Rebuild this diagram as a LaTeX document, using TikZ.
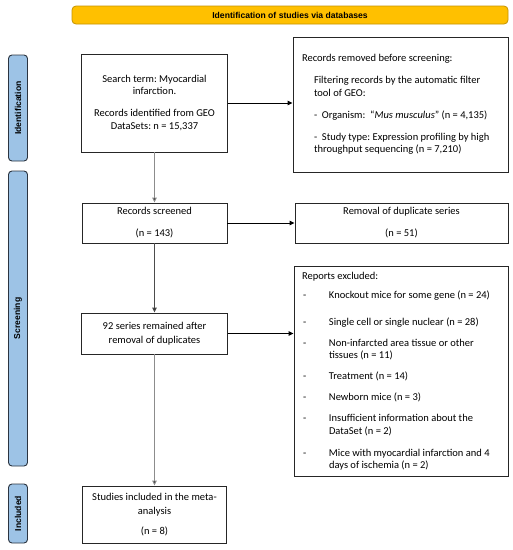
\documentclass[tikz,border=0pt]{standalone}
\usepackage{fontspec}
\setmainfont{Carlito}
\newfontfamily\hdrfont{Liberation Sans}
\usetikzlibrary{arrows.meta}
\definecolor{bannerfill}{HTML}{FFC000}
\definecolor{bannerdraw}{HTML}{C49300}
\definecolor{sidefill}{HTML}{9DC3E6}
\definecolor{sidedraw}{HTML}{2B3440}
\newcommand\exitm[1]{\mbox{\makebox[27pt][l]{\hspace{1pt}-}#1}}
\newcommand\excont[1]{\mbox{\hspace*{27pt}#1}}
\newcommand\ctrline[1]{\makebox[0pt][c]{#1}}
\begin{document}
\begin{tikzpicture}[x=1pt,y=-1pt,
  box/.style={draw=black!85, line width=0.9pt, inner sep=0pt, fill=white,
    font=\frenchspacing\fontsize{10.5}{12.5}\selectfont},
  cbox/.style={box, align=center},
  lbox/.style={box, align=flush left},
  hdr/.style={draw=bannerdraw, fill=bannerfill, line width=0.8pt, rounded corners=4pt,
    inner sep=0pt, font=\hdrfont\bfseries\fontsize{8.6}{10}\selectfont},
  side/.style={draw=sidedraw, fill=sidefill, line width=0.9pt, rounded corners=3.5pt,
    inner sep=0pt, rotate=90, minimum height=19pt,
    font=\hdrfont\bfseries\fontsize{8.6}{10}\selectfont},
  garrow/.style={draw=black!45, line width=0.9pt, -{Triangle[length=5pt,width=4.5pt,fill=black!80]}},
  darrow/.style={draw=black!70, line width=0.9pt, -{Triangle[length=5pt,width=4.5pt,fill=black!80]}},
  harrow/.style={draw=black, line width=0.9pt, -{Triangle[length=5pt,width=4.5pt]}}
]
\fill[white] (0,0) rectangle (513,550);
\useasboundingbox (0,0) rectangle (513,550);

\node[hdr, minimum width=436pt, minimum height=18pt] (hd) at (290,15) {Identification of studies via databases};

\node[side, minimum width=106pt] (sid) at (18,108) {Identification};
\node[side, minimum width=295pt] (ssc) at (18,318.5) {Screening};
\node[side, minimum width=59pt] (sin) at (18,513.5) {Included};

\node[cbox, minimum width=146pt, minimum height=98pt] (b1) at (154.5,103)
  {\ctrline{Search term: Myocardial}\\\ctrline{infarction.}\\[9.5pt]\ctrline{Records identified from GEO}\\\ctrline{DataSets: n = 15,337}};

\node[lbox, minimum width=215pt, minimum height=135pt, text width=197pt] (b2) at (400.5,104.5)
  {Records removed before screening:\\[10pt]
   \mbox{\hspace*{12pt}Filtering records by the automatic filter}\\
   \mbox{\hspace*{12pt}tool of GEO:}\\[9.5pt]
   \mbox{\hspace*{12pt}-\ \ Organism:\ \ “\textit{Mus musculus}” (n = 4,135)}\\[9.5pt]
   \mbox{\hspace*{12pt}-\ \ Study type: Expression profiling by high}\\
   \mbox{\hspace*{12pt}throughput sequencing (n = 7,210)}};

\node[cbox, minimum width=145pt, minimum height=40pt] (b3) at (154.5,223)
  {Records screened\\[9.5pt](n = 143)};

\node[cbox, minimum width=213pt, minimum height=40pt] (b4) at (401.5,223)
  {Removal of duplicate series\\[9.5pt](n = 51)};

\node[cbox, minimum width=146pt, minimum height=41pt] (b5) at (154.5,333.5)
  {92 series remained after\\[1.5pt]removal of duplicates};

\node[lbox, minimum width=214pt, minimum height=210pt, text width=198pt] (b6) at (401,371)
  {Reports excluded:\\[6.5pt]
   \exitm{Knockout mice for some gene (n = 24)}\\[14.5pt]
   \exitm{Single cell or single nuclear (n = 28)}\\[8.5pt]
   \exitm{Non-infarcted area tissue or other}\\
   \excont{tissues (n = 11)}\\[8.5pt]
   \exitm{Treatment (n = 14)}\\[8.5pt]
   \exitm{Newborn mice (n = 3)}\\[8.5pt]
   \exitm{Insufficient information about the}\\
   \excont{DataSet (n = 2)}\\[9.5pt]
   \exitm{Mice with myocardial infarction and 4}\\
   \excont{days of ischemia (n = 2)}};

\node[cbox, minimum width=144pt, minimum height=57pt] (b7) at (154.5,514.5)
  {Studies included in the meta-\\[1.5pt]analysis\\[7.5pt](n = 8)};

\draw[garrow] (b1.south) -- (b3.north);
\draw[darrow] (b3.south) -- (b5.north);
\draw[garrow] (b5.south) -- (b7.north);
\draw[harrow] (b1.east) -- (b1.east -| b2.west);
\draw[harrow] (b3.east) -- (b3.east -| b4.west);
\draw[harrow] (b5.east) -- (b5.east -| b6.west);
\end{tikzpicture}
\end{document}
